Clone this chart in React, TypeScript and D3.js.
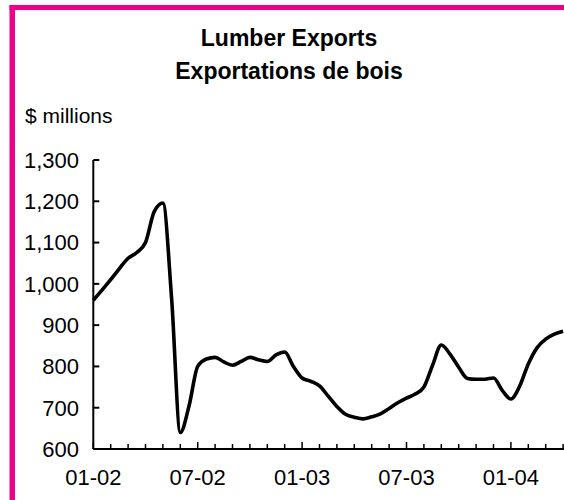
import React from "react";
import * as d3 from "d3";

// semi-monthly observations, Jan 2002 .. Apr 2004 (index step = half a month)
const exportValues: number[] = [
  960, 985, 1010, 1037, 1062, 1076, 1100, 1175, 1196, 965,
  640, 704, 800, 818, 822, 811, 803, 812, 822, 816,
  812, 828, 835, 800, 772, 764, 753, 728, 703, 684,
  677, 673, 678, 685, 698, 712, 723, 733, 750, 803,
  852, 830, 798, 771, 769, 769, 772, 742, 721, 752,
  806, 845, 866, 878, 885,
];
const yTicks: number[] = [600, 700, 800, 900, 1000, 1100, 1200, 1300];
const xTickLabels: string[] = ["01-02", "07-02", "01-03", "07-03", "01-04"];
const xTickMonths: number[] = [0, 6, 12, 18, 24];
const minorMonths: number[] = d3.range(0, 29);
const titleLines: string[] = ["Lumber Exports", "Exportations de bois"];
const unitLabel = "$ millions";

const W = 564;
const H = 500;
const FONT = "'Liberation Sans', Arial, Helvetica, sans-serif";
const PINK = "#EC008C";

export default function App() {
  const x = d3.scaleLinear().domain([0, 28]).range([93.3, 93.3 + 17.4 * 28]);
  const y = d3.scaleLinear().domain([600, 1300]).range([449, 160]);
  const line = d3
    .line<number>()
    .x((_, i) => x(i * 0.5))
    .y((d) => y(d))
    .curve(d3.curveMonotoneX);
  const fmt = d3.format(",");
  const axisX = x(0);
  const axisY = y(600);

  return (
    <svg
      width={W}
      height={H}
      style={{ position: "absolute", left: 0, top: 0, background: "#fff", overflow: "hidden" }}
      fontFamily={FONT}
    >
      <rect x={0} y={0} width={W} height={H} fill="#fff" />
      <line x1={9.5} x2={W} y1={7.5} y2={7.5} stroke={PINK} strokeWidth={5} />
      <line x1={12.25} x2={12.25} y1={5} y2={H} stroke={PINK} strokeWidth={5.5} />
      {titleLines.map((t, i) => (
        <text
          key={t}
          x={289}
          y={46 + i * 33}
          textAnchor="middle"
          fontWeight="bold"
          fontSize={23}
          fill="#000"
        >
          {t}
        </text>
      ))}
      <text x={25} y={123} fontSize={21} fill="#000">
        {unitLabel}
      </text>
      {/* y axis */}
      <line x1={axisX} x2={axisX} y1={y(1300)} y2={axisY} stroke="#000" strokeWidth={2} />
      {yTicks.map((v) => (
        <g key={v}>
          <line x1={axisX} x2={axisX + 6} y1={y(v)} y2={y(v)} stroke="#000" strokeWidth={2} />
          <text
            x={79}
            y={y(v)}
            dy="0.36em"
            textAnchor="end"
            fontSize={22}
            fill="#000"
          >
            {fmt(v)}
          </text>
        </g>
      ))}
      {/* x axis */}
      <line x1={axisX} x2={W} y1={axisY} y2={axisY} stroke="#000" strokeWidth={2} />
      {minorMonths.map((m) => (
        <line
          key={m}
          x1={x(m)}
          x2={x(m)}
          y1={axisY}
          y2={axisY - (xTickMonths.includes(m) ? 7 : 5)}
          stroke="#000"
          strokeWidth={1.5}
        />
      ))}
      {xTickLabels.map((lab, i) => (
        <text
          key={lab}
          x={x(xTickMonths[i])}
          y={485}
          textAnchor="middle"
          fontSize={22}
          fill="#000"
        >
          {lab}
        </text>
      ))}
      <path
        d={line(exportValues) || ""}
        fill="none"
        stroke="#000"
        strokeWidth={3.6}
        strokeLinejoin="round"
      />
    </svg>
  );
}
